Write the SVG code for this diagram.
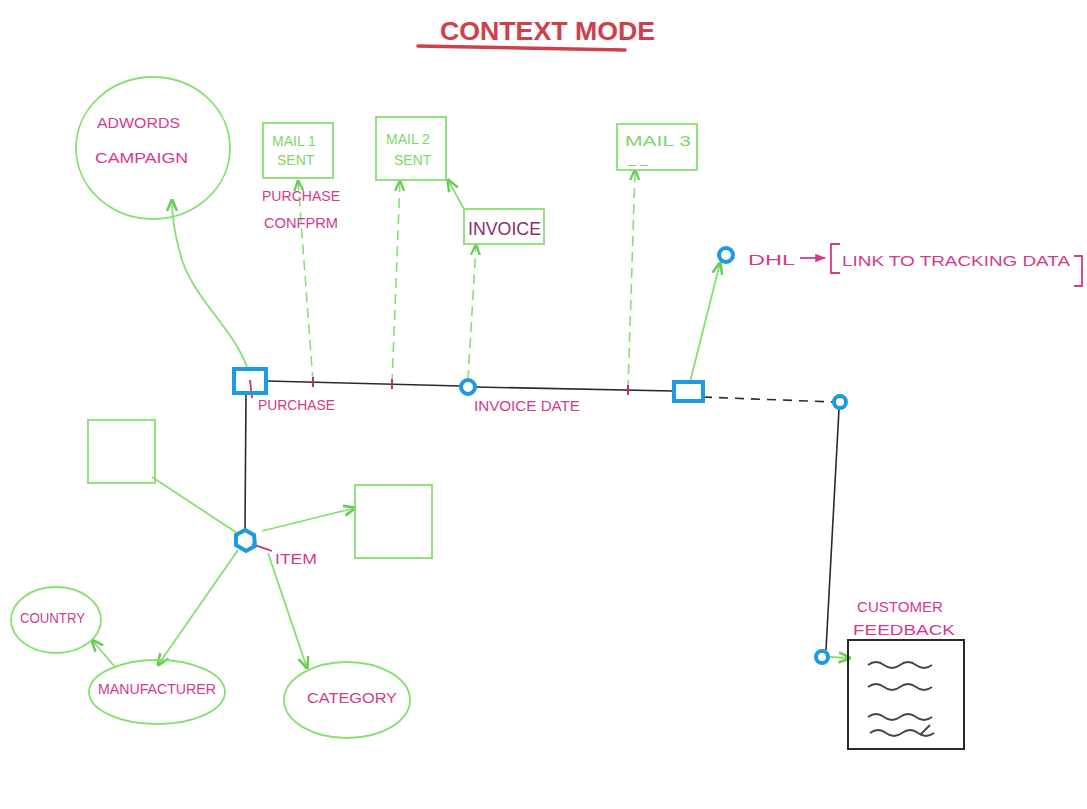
<svg xmlns="http://www.w3.org/2000/svg" width="1087" height="809" viewBox="0 0 1087 809">
<defs>
<style>
.pk{font-family:"Liberation Sans",Arial,sans-serif;fill:#d43a8c;font-size:15px}
.gt{font-family:"Liberation Sans",Arial,sans-serif;fill:#7fd56a;font-size:14px}
.g{fill:none;stroke:#86e070;stroke-width:1.8}
.gd{fill:none;stroke:#86e070;stroke-width:1.6;stroke-dasharray:10 6}
.k{fill:none;stroke:#2a2a2a;stroke-width:1.6}
.b{fill:none;stroke:#1e9be0;stroke-width:4}
.w{fill:none;stroke:#444;stroke-width:1.8}
</style>
<marker id="ga" viewBox="0 0 10 10" refX="9" refY="5" markerWidth="7" markerHeight="7" orient="auto-start-reverse"><path d="M0,1 L10,5 L0,9" fill="none" stroke="#6cc95a" stroke-width="2"/></marker>
<marker id="pa" viewBox="0 0 10 10" refX="9" refY="5" markerWidth="6" markerHeight="6" orient="auto"><path d="M0,1 L10,5 L0,9 Z" fill="#d43a8c"/></marker>
</defs>
<rect width="1087" height="809" fill="#ffffff"/>
<g id="title">
<text x="440" y="40" font-family="Liberation Sans,Arial,sans-serif" font-size="26" font-weight="bold" fill="#d0404a" textLength="215" lengthAdjust="spacingAndGlyphs">CONTEXT MODE</text>
<path d="M418,46 L625,50" stroke="#d0404a" stroke-width="3.5" fill="none" stroke-linecap="round"/>
</g>
<g id="connectors">
<path class="g" d="M248,370 C235,330 195,300 182,260 C175,235 172,220 172,200" marker-end="url(#ga)"/>
<path class="gd" d="M313,382 L298,181" marker-end="url(#ga)"/>
<path class="gd" d="M392,384 L400,181" marker-end="url(#ga)"/>
<path class="gd" d="M468,380 L476,245" marker-end="url(#ga)"/>
<path class="g" d="M464,209 L448,180" marker-end="url(#ga)"/>
<path class="gd" d="M628,390 L635,170" marker-end="url(#ga)"/>
<path class="g" d="M690,382 L720,263" marker-end="url(#ga)"/>
<path class="k" d="M267,381 L461,386 M475,387 L673,391"/>
<path d="M313,377 V387 M392,379 V389 M628,385 V395" stroke="#c0306a" stroke-width="2"/>
<path class="k" d="M703,397 L833,402" stroke-dasharray="9 7"/>
<path class="k" d="M839,409 L826,650"/>
<path class="g" d="M830,657 L850,658" marker-end="url(#ga)"/>
<path class="k" d="M246,393 L245,530"/>
<path class="g" d="M152,477 L237,533"/>
<path class="g" d="M262,531 L355,508" marker-end="url(#ga)"/>
<path class="g" d="M238,550 L158,665" marker-end="url(#ga)"/>
<path class="g" d="M268,553 L307,668" marker-end="url(#ga)"/>
<path class="g" d="M92,640 L115,667" marker-start="url(#ga)"/>
<path d="M800,258 L825,258" stroke="#d43a8c" stroke-width="1.8" marker-end="url(#pa)"/>
<path d="M252,544 L272,551" stroke="#c0306a" stroke-width="1.8"/>
<path d="M250,380 L252,398" stroke="#c0306a" stroke-width="1.8"/>
</g>
<g id="adwords">
<ellipse class="g" cx="153" cy="148" rx="77" ry="71"/>
<text class="pk" x="97" y="128" font-size="16" textLength="83" lengthAdjust="spacingAndGlyphs">ADWORDS</text>
<text class="pk" x="95" y="163" font-size="16" textLength="93" lengthAdjust="spacingAndGlyphs">CAMPAIGN</text>
</g>
<g id="mail1">
<rect class="g" x="263" y="123" width="70" height="55"/>
<text class="gt" x="272" y="146">MAIL 1</text>
<text class="gt" x="277" y="165">SENT</text>
<text class="pk" x="262" y="201" textLength="78" lengthAdjust="spacingAndGlyphs">PURCHASE</text>
<text class="pk" x="264" y="228" textLength="74" lengthAdjust="spacingAndGlyphs">CONFPRM</text>
</g>
<g id="mail2">
<rect class="g" x="376" y="117" width="70" height="63"/>
<text class="gt" x="386" y="144">MAIL 2</text>
<text class="gt" x="394" y="165">SENT</text>
</g>
<g id="invoice">
<rect class="g" x="464" y="209" width="80" height="35"/>
<text x="468" y="235" font-family="Liberation Sans,Arial,sans-serif" font-size="18" fill="#8a2f6a" textLength="73" lengthAdjust="spacingAndGlyphs">INVOICE</text>
</g>
<g id="mail3">
<rect class="g" x="617" y="124" width="80" height="46"/>
<text class="gt" x="625" y="146" font-size="16" textLength="66" lengthAdjust="spacingAndGlyphs">MAIL 3</text>
<text class="gt" x="628" y="163">_  _</text>
</g>
<g id="dhl">
<circle class="b" cx="726" cy="255" r="7"/>
<text class="pk" x="748" y="265" font-size="18" textLength="47" lengthAdjust="spacingAndGlyphs">DHL</text>
<path d="M840,244 L831,244 L831,273 L840,273 M1074,256 L1082,256 L1082,286 L1074,286" stroke="#d43a8c" stroke-width="1.8" fill="none"/>
<text class="pk" x="842" y="266" textLength="228" lengthAdjust="spacingAndGlyphs">LINK TO TRACKING DATA</text>
</g>
<g id="purchase">
<rect class="b" x="234" y="369" width="32" height="24"/>
<text class="pk" x="258" y="410" textLength="77" lengthAdjust="spacingAndGlyphs">PURCHASE</text>
</g>
<g id="invoice-date">
<circle class="b" cx="468" cy="387" r="7"/>
<text class="pk" x="474" y="411" textLength="106" lengthAdjust="spacingAndGlyphs">INVOICE DATE</text>
</g>
<g id="shipment">
<rect class="b" x="674" y="382" width="29" height="19"/>
</g>
<g id="feedback-point">
<circle class="b" cx="840" cy="402" r="6"/>
</g>
<g id="feedback-link">
<circle class="b" cx="822" cy="657" r="6"/>
</g>
<g id="item">
<polygon class="b" points="245,530 254,535 255,546 246,551 236,545 236,535"/>
<text class="pk" x="275" y="564" font-size="16" textLength="42" lengthAdjust="spacingAndGlyphs">ITEM</text>
</g>
<g id="box-left">
<rect class="g" x="88" y="420" width="67" height="63"/>
</g>
<g id="box-right">
<rect class="g" x="355" y="485" width="77" height="73"/>
</g>
<g id="country">
<ellipse class="g" cx="56" cy="620" rx="45" ry="33"/>
<text class="pk" x="20" y="623" font-size="13" textLength="65" lengthAdjust="spacingAndGlyphs">COUNTRY</text>
</g>
<g id="manufacturer">
<ellipse class="g" cx="157" cy="692" rx="68" ry="32"/>
<text class="pk" x="98" y="694" font-size="13" textLength="118" lengthAdjust="spacingAndGlyphs">MANUFACTURER</text>
</g>
<g id="category">
<ellipse class="g" cx="347" cy="700" rx="63" ry="38"/>
<text class="pk" x="307" y="703" font-size="16" textLength="90" lengthAdjust="spacingAndGlyphs">CATEGORY</text>
</g>
<g id="customer-feedback">
<text class="pk" x="857" y="612" font-size="14" textLength="86" lengthAdjust="spacingAndGlyphs">CUSTOMER</text>
<text class="pk" x="853" y="635" font-size="16" textLength="102" lengthAdjust="spacingAndGlyphs">FEEDBACK</text>
<rect x="848" y="640" width="116" height="109" fill="none" stroke="#2a2a2a" stroke-width="2"/>
<path class="w" d="M868,665 q8,-6 16,0 t16,0 t16,0 t16,0"/>
<path class="w" d="M868,687 q8,-6 16,0 t16,0 t16,0 t16,0"/>
<path class="w" d="M868,717 q8,-6 16,0 t16,0 t16,0 t16,0"/>
<path class="w" d="M870,733 q8,-6 16,0 t16,0 t16,0 t16,0 M920,735 l10,-10"/>
</g>
</svg>
